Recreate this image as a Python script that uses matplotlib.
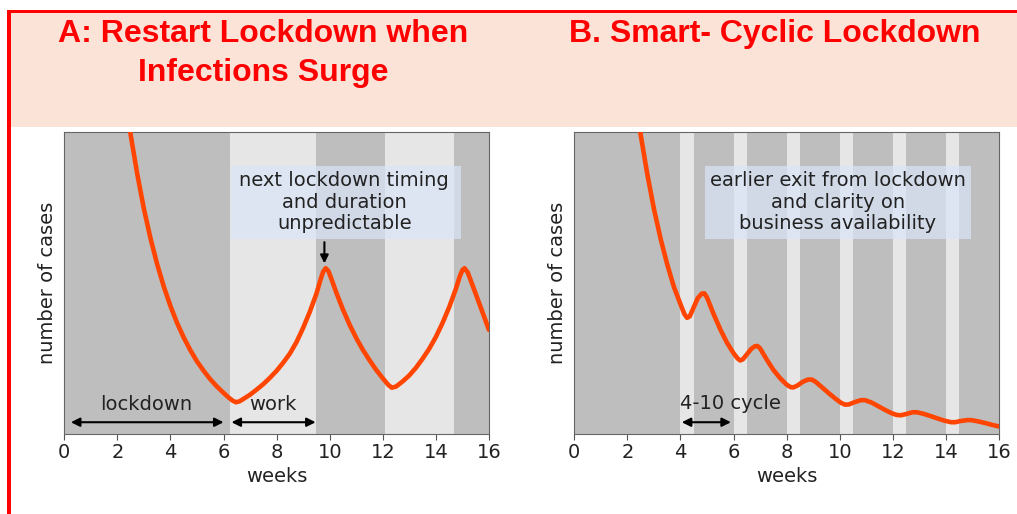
import numpy as np
import matplotlib
matplotlib.use("Agg")
import matplotlib.pyplot as plt
from matplotlib.patches import Rectangle

# Data: curves (weeks, relative number of cases)
weeks_a = [2.45, 2.5, 2.75, 3.0, 3.25, 3.5, 3.75, 4.0, 4.25, 4.5, 4.75, 5.0, 5.25, 5.5,
           5.75, 6.0, 6.2, 6.35, 6.47, 6.6, 6.75, 7.0, 7.25, 7.5, 7.75, 8.0, 8.25, 8.5,
           8.75, 9.0, 9.25, 9.5, 9.65, 9.75, 9.85, 9.95, 10.1, 10.25, 10.5, 10.75,
           11.0, 11.25, 11.5, 11.75, 12.0, 12.2, 12.34, 12.5, 12.75, 13.0, 13.25, 13.5,
           13.75, 14.0, 14.25, 14.5, 14.75, 14.9, 15.0, 15.08, 15.2, 15.35, 15.54, 15.75,
           16.0]
cases_a = [1.03, 0.99, 0.86, 0.745, 0.647, 0.562, 0.488, 0.424, 0.368, 0.32, 0.278, 0.241,
           0.21, 0.182, 0.158, 0.137, 0.121, 0.111, 0.106, 0.109, 0.117, 0.131, 0.148, 0.166,
           0.187, 0.21, 0.237, 0.267, 0.305, 0.352, 0.405, 0.465, 0.51, 0.537, 0.549, 0.54,
           0.505, 0.468, 0.412, 0.362, 0.318, 0.279, 0.245, 0.213, 0.185, 0.164, 0.154,
           0.158, 0.175, 0.195, 0.22, 0.25, 0.283, 0.322, 0.368, 0.42, 0.48, 0.522, 0.543,
           0.549, 0.535, 0.5, 0.455, 0.405, 0.345]

weeks_b = [2.45, 2.5, 2.75, 3.0, 3.25, 3.5, 3.75, 4.0, 4.15, 4.25, 4.35, 4.5, 4.65, 4.8,
           4.9, 5.0, 5.25, 5.5, 5.75, 6.0, 6.15, 6.25, 6.35, 6.5, 6.65, 6.8, 6.9, 7.0,
           7.25, 7.5, 7.75, 8.0, 8.15, 8.25, 8.4, 8.6, 8.8, 8.95, 9.1, 9.35, 9.6, 9.85,
           10.05, 10.2, 10.35, 10.55, 10.8, 10.95, 11.2, 11.45, 11.7, 11.95, 12.15, 12.3,
           12.5, 12.75, 12.9, 13.15, 13.4, 13.7, 13.95, 14.2, 14.35, 14.55, 14.8, 14.95,
           15.2, 15.5, 15.75, 16.0]
cases_b = [1.03, 0.99, 0.86, 0.745, 0.647, 0.562, 0.488, 0.43, 0.397, 0.385, 0.39, 0.42,
           0.45, 0.465, 0.466, 0.452, 0.397, 0.347, 0.303, 0.268, 0.251, 0.244, 0.248, 0.264,
           0.281, 0.291, 0.292, 0.284, 0.247, 0.213, 0.186, 0.164, 0.156, 0.155, 0.161, 0.173,
           0.181, 0.181, 0.173, 0.154, 0.135, 0.117, 0.104, 0.098, 0.099, 0.106, 0.113, 0.113,
           0.105, 0.093, 0.081, 0.07, 0.064, 0.063, 0.067, 0.073, 0.073, 0.068, 0.061, 0.052,
           0.045, 0.040, 0.040, 0.044, 0.047, 0.047, 0.043, 0.037, 0.031, 0.026]

# work periods (light bands)
work_a = [(6.25, 9.5), (12.1, 14.7)]
work_b = [(4, 4.5), (6, 6.5), (8, 8.5), (10, 10.5), (12, 12.5), (14, 14.5)]

xticks = [0, 2, 4, 6, 8, 10, 12, 14, 16]

DARK = '#bebebe'
LIGHT = '#e6e6e6'
LINE = '#ff4500'
TXT = '#222222'
FS = 14

fig = plt.figure(figsize=(10.17, 5.14), dpi=100)

# header band and red frame
fig.patches.append(Rectangle((0.011, 0.753), 0.989, 0.222, transform=fig.transFigure,
                             facecolor='#fbe3d8', edgecolor='none', zorder=0))
fig.patches.append(Rectangle((0.007, 0.975), 0.993, 0.006, transform=fig.transFigure,
                             facecolor='#ff0000', edgecolor='none', zorder=1))
fig.patches.append(Rectangle((0.007, 0.0), 0.004, 0.981, transform=fig.transFigure,
                             facecolor='#ff0000', edgecolor='none', zorder=1))

fig.text(0.259, 0.934, 'A: Restart Lockdown when', color='#ff0000', fontsize=23,
         fontweight='bold', family='Liberation Sans', ha='center', va='center')
fig.text(0.259, 0.858, 'Infections Surge', color='#ff0000', fontsize=23,
         fontweight='bold', family='Liberation Sans', ha='center', va='center')
fig.text(0.762, 0.934, 'B. Smart- Cyclic Lockdown', color='#ff0000', fontsize=23,
         fontweight='bold', family='Liberation Sans', ha='center', va='center')


def setup(ax, weeks, cases, work):
    ax.set_facecolor(DARK)
    for a, b in work:
        ax.axvspan(a, b, color=LIGHT, lw=0, zorder=0)
    ax.plot(weeks, cases, color=LINE, lw=3.3, zorder=3, solid_capstyle='round',
            solid_joinstyle='round')
    ax.set_xlim(0, 16)
    ax.set_ylim(0, 1)
    ax.set_xticks(xticks)
    ax.set_yticks([])
    ax.tick_params(axis='x', labelsize=FS, colors='#555555', labelcolor=TXT, length=4, pad=2)
    for s in ax.spines.values():
        s.set_color('#666666')
    ax.set_xlabel('weeks', fontsize=FS, color=TXT, labelpad=4)
    ax.set_ylabel('number of cases', fontsize=FS, color=TXT, labelpad=5)


def dbl_arrow(ax, x0, x1, y):
    ax.annotate('', xy=(x1, y), xytext=(x0, y),
                arrowprops=dict(arrowstyle='<|-|>', color='black', lw=1.5,
                                mutation_scale=13, shrinkA=0, shrinkB=0), zorder=5)


ax1 = fig.add_axes([0.0632, 0.155, 0.4176, 0.5887])
setup(ax1, weeks_a, cases_a, work_a)
ax1.add_patch(Rectangle((6.28, 0.645), 8.67, 0.243, facecolor='#dae4f8', alpha=0.7,
                        edgecolor='none', zorder=4))
ax1.text(10.55, 0.767, 'next lockdown timing\nand duration\nunpredictable', fontsize=FS,
         color=TXT, ha='center', va='center', zorder=6, linespacing=1.15)
ax1.annotate('', xy=(9.8, 0.565), xytext=(9.8, 0.635),
             arrowprops=dict(arrowstyle='-|>', color='black', lw=1.5, mutation_scale=12,
                             shrinkA=0, shrinkB=0), zorder=6)
dbl_arrow(ax1, 0.25, 6.0, 0.04)
dbl_arrow(ax1, 6.3, 9.47, 0.04)
ax1.text(3.1, 0.097, 'lockdown', fontsize=FS, color=TXT, ha='center', va='center', zorder=6)
ax1.text(7.87, 0.097, 'work', fontsize=FS, color=TXT, ha='center', va='center', zorder=6)

ax2 = fig.add_axes([0.5647, 0.155, 0.4176, 0.5887])
setup(ax2, weeks_b, cases_b, work_b)
ax2.add_patch(Rectangle((4.92, 0.645), 10.03, 0.243, facecolor='#dae4f8', alpha=0.7,
                        edgecolor='none', zorder=4))
ax2.text(9.93, 0.767, 'earlier exit from lockdown\nand clarity on\nbusiness availability',
         fontsize=FS, color=TXT, ha='center', va='center', zorder=6, linespacing=1.15)
dbl_arrow(ax2, 4.05, 5.9, 0.04)
ax2.text(4.0, 0.102, '4-10 cycle', fontsize=FS, color=TXT, ha='left', va='center', zorder=6)

fig.savefig('out.png', dpi=100)
